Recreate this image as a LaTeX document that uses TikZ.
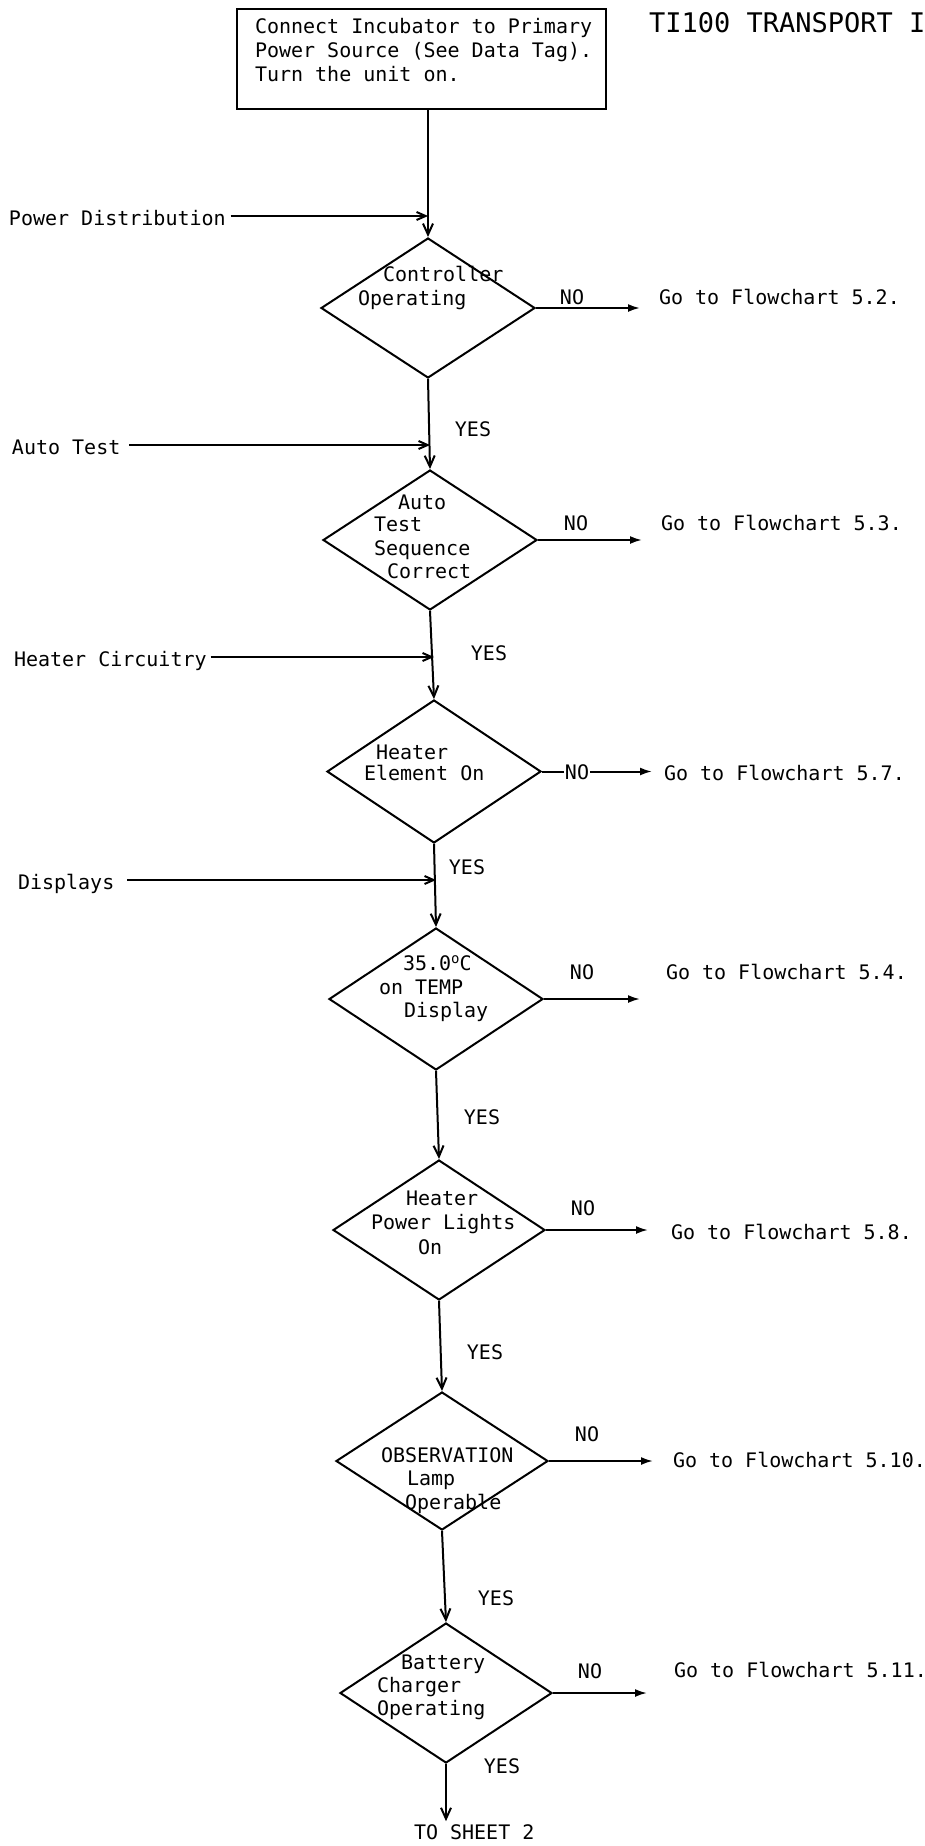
\documentclass[tikz,border=0pt]{standalone}
\usepackage{fontspec}
\newfontfamily\typefont{DejaVu Sans Mono}
\usetikzlibrary{shapes.geometric,arrows.meta}

\begin{document}
\begin{tikzpicture}[x=1pt,y=-1pt,line width=2pt,
  txt/.style={font={\typefont\fontsize{20pt}{24pt}\selectfont},inner sep=0pt,anchor=base west},
  ttl/.style={font={\typefont\fontsize{27pt}{30pt}\selectfont},inner sep=0pt,anchor=base west},
  decision/.style={draw,diamond,inner sep=0pt,minimum width=214pt,minimum height=140pt},
  stepbox/.style={draw,rectangle,inner sep=0pt,minimum width=369pt,minimum height=100pt},
  flow/.style={-{Straight Barb[length=11pt,width=10pt]}},
  feed/.style={-{Straight Barb[length=9pt,width=8pt]}},
  noway/.style={-{Latex[length=12pt,width=8pt]}},
]
\fill[white] (0,0) rectangle (925,1846);
\useasboundingbox (0,0) rectangle (925,1846);

% title
\node[ttl] (title) at (648,33) {TI100 TRANSPORT I};

% start box
\node[stepbox] (start) at (421.5,59) {};
\node[txt] (s1) at (254,34) {Connect Incubator to Primary};
\node[txt] (s2) at (254,58) {Power Source (See Data Tag).};
\node[txt] (s3) at (254,82) {Turn the unit on.};

% decisions
\node[decision] (d1) at (428,308) {};
\node[decision] (d2) at (430,540) {};
\node[decision,minimum height=143pt] (d3) at (434,771.5) {};
\node[decision,minimum height=142pt] (d4) at (436,999) {};
\node[decision,minimum width=212pt] (d5) at (439,1230) {};
\node[decision,minimum width=212pt,minimum height=138pt] (d6) at (442,1461) {};
\node[decision,minimum width=212pt] (d7) at (446,1693) {};

% decision texts
\node[txt] (t11) at (382,281) {Controller};
\node[txt] (t12) at (357,305) {Operating};

\node[txt] (t21) at (397,509) {Auto};
\node[txt] (t22) at (373,531) {Test};
\node[txt] (t23) at (373,555) {Sequence};
\node[txt] (t24) at (386,578) {Correct};

\node[txt] (t31) at (375,759) {Heater};
\node[txt] (t32) at (363,780) {Element On};

\node[txt] (t41) at (402,970) {35.0\raisebox{7pt}{\fontsize{14pt}{14pt}\selectfont o}C};
\node[txt] (t42) at (378,994) {on TEMP};
\node[txt] (t43) at (403,1017) {Display};

\node[txt] (t51) at (405,1205) {Heater};
\node[txt] (t52) at (370,1229) {Power Lights};
\node[txt] (t53) at (417,1254) {On};

\node[txt] (t61) at (380,1462) {OBSERVATION};
\node[txt] (t62) at (406,1485) {Lamp};
\node[txt] (t63) at (404,1509) {Operable};

\node[txt] (t71) at (400,1669) {Battery};
\node[txt] (t72) at (376,1692) {Charger};
\node[txt] (t73) at (376,1715) {Operating};

% side inputs
\node[txt] (pd) at (8,225) {Power Distribution};
\node[txt] (at) at (11,454) {Auto Test};
\node[txt] (hc) at (13,666) {Heater Circuitry};
\node[txt] (dp) at (17,889) {Displays};

% main flow
\draw[flow] (start.south -| d1.north) -- (d1.north);
\draw[flow] (d1.south) -- (d2.north);
\draw[flow] (d2.south) -- (d3.north);
\draw[flow] (d3.south) -- (d4.north);
\draw[flow] (d4.south) -- (d5.north);
\draw[flow] (d5.south) -- (d6.north);
\draw[flow] (d6.south) -- (d7.north);
\node[txt] (sheet) at (413,1839) {TO SHEET 2};
\draw[flow] (d7.south) -- ([yshift=2pt]d7.south |- sheet.north);

% feeds into the main line
\draw[feed] ([xshift=4pt,yshift=9pt]pd.base east) -- ([yshift=9pt]pd.base east -| d1.north);
\draw[feed] ([xshift=8pt,yshift=9pt]at.base east) -- ([yshift=9pt]at.base east -| d2.north);
\draw[feed] ([xshift=3pt,yshift=9pt]hc.base east) -- ([yshift=9pt]hc.base east -| d3.north);
\draw[feed] ([xshift=12pt,yshift=9pt]dp.base east) -- ([yshift=9pt]dp.base east -| d4.north);

% YES labels
\node[txt,anchor=base] (y1) at (473,436) {YES};
\node[txt,anchor=base] (y2) at (489,660) {YES};
\node[txt,anchor=base] (y3) at (467,874) {YES};
\node[txt,anchor=base] (y4) at (482,1124) {YES};
\node[txt,anchor=base] (y5) at (485,1359) {YES};
\node[txt,anchor=base] (y6) at (496,1605) {YES};
\node[txt,anchor=base] (y7) at (502,1773) {YES};

% NO branches
\coordinate (e1) at (640,308);
\coordinate (e2) at (642,540);
\coordinate (e3) at (652,771.5);
\coordinate (e4) at (640,999);
\coordinate (e5) at (648,1230);
\coordinate (e6) at (653,1461);
\coordinate (e7) at (647,1693);
\draw[noway] (d1.east) -- (e1);
\draw[noway] (d2.east) -- (e2);
\draw[noway] (d3.east) -- (e3);
\draw[noway] (d4.east) -- (e4);
\draw[noway] (d5.east) -- (e5);
\draw[noway] (d6.east) -- (e6);
\draw[noway] (d7.east) -- (e7);

\node[txt,anchor=base] (n1) at (572,304) {NO};
\node[txt,anchor=base] (n2) at (576,530) {NO};
\node[txt,anchor=base,fill=white,inner sep=1pt] (n3) at (577,779) {NO};
\node[txt,anchor=base] (n4) at (582,979) {NO};
\node[txt,anchor=base] (n5) at (583,1215) {NO};
\node[txt,anchor=base] (n6) at (587,1441) {NO};
\node[txt,anchor=base] (n7) at (590,1678) {NO};

\node[txt] (g1) at (658,304) {Go to Flowchart 5.2.};
\node[txt] (g2) at (660,530) {Go to Flowchart 5.3.};
\node[txt] (g3) at (663,780) {Go to Flowchart 5.7.};
\node[txt] (g4) at (665,979) {Go to Flowchart 5.4.};
\node[txt] (g5) at (670,1239) {Go to Flowchart 5.8.};
\node[txt] (g6) at (672,1467) {Go to Flowchart 5.10.};
\node[txt] (g7) at (673,1677) {Go to Flowchart 5.11.};
\end{tikzpicture}
\end{document}
